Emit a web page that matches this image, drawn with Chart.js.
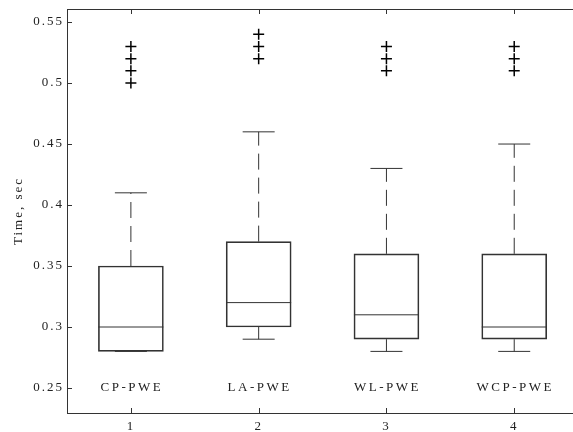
<!DOCTYPE html>
<html>
<head>
<meta charset="utf-8">
<script src="https://cdn.jsdelivr.net/npm/chart.js@4"></script>
<style>
  html, body { margin: 0; padding: 0; background: #fff; }
  canvas { display: block; }
</style>
</head>
<body>
<canvas id="c" width="573" height="432"></canvas>
<script>
// Box-plot statistics of run time per method
const positions = [1, 2, 3, 4];
const tickLabels = ['1', '2', '3', '4'];
const methods = ['CP-PWE', 'LA-PWE', 'WL-PWE', 'WCP-PWE'];
const lowerWhisker = [0.28, 0.29, 0.28, 0.28];
const q1 = [0.28, 0.30, 0.29, 0.29];
const median = [0.30, 0.32, 0.31, 0.30];
const q3 = [0.35, 0.37, 0.36, 0.36];
const upperWhisker = [0.41, 0.46, 0.43, 0.45];
const outliers = [
  [0.50, 0.51, 0.52, 0.53],
  [0.52, 0.53, 0.54],
  [0.51, 0.52, 0.53],
  [0.51, 0.52, 0.53]
];
const yTicks = [0.25, 0.30, 0.35, 0.40, 0.45, 0.50, 0.55];
const labelLevel = 0.25;

const INK = '#333';
const SERIF = '"Liberation Serif", "Times New Roman", serif';

// Dataset tables built from the arrays above
const boxData = positions.map((x, i) => ({ x, y: [q1[i], q3[i]] }));
const medianData = positions.map((x, i) => ({ x, y: median[i] }));
const capData = [];
const whiskerData = [];
positions.forEach((x, i) => {
  capData.push({ x, y: upperWhisker[i] }, { x, y: lowerWhisker[i] });
  whiskerData.push(
    { x, y: q3[i] }, { x, y: upperWhisker[i] }, { x, y: null },
    { x, y: q1[i] }, { x, y: lowerWhisker[i] }, { x, y: null }
  );
});
const outlierData = [];
positions.forEach((x, i) => outliers[i].forEach(v => outlierData.push({ x, y: v })));

// Fixed axis sizes, no extra label overhang padding
function fixScale(size) {
  return s => {
    if (s.isHorizontal()) s.height = size; else s.width = size;
    s.paddingTop = 0; s.paddingBottom = 0; s.paddingLeft = 0; s.paddingRight = 0;
  };
}

// Axis frame: top edge, inward tick marks and the method names inside the plot
const framePlugin = {
  id: 'frame',
  beforeDraw(chart) {
    chart.ctx.letterSpacing = '2px';
  },
  afterDraw(chart) {
    const { ctx, chartArea: a, scales: { x, y } } = chart;
    ctx.save();
    ctx.strokeStyle = INK;
    ctx.lineWidth = 1;
    ctx.beginPath();
    ctx.moveTo(a.left, a.top + 0.5);
    ctx.lineTo(a.right, a.top + 0.5);
    yTicks.forEach(v => {
      const py = Math.round(y.getPixelForValue(v)) + 0.5;
      ctx.moveTo(a.left, py);
      ctx.lineTo(a.left + 5, py);
    });
    positions.forEach(v => {
      const px = Math.round(x.getPixelForValue(v)) + 0.5;
      ctx.moveTo(px, a.bottom);
      ctx.lineTo(px, a.bottom - 5);
      ctx.moveTo(px, a.top);
      ctx.lineTo(px, a.top + 5);
    });
    ctx.stroke();

    ctx.fillStyle = '#222';
    ctx.font = '13px ' + SERIF;
    ctx.letterSpacing = '2.5px';
    ctx.textAlign = 'center';
    ctx.textBaseline = 'middle';
    methods.forEach((m, i) => {
      ctx.fillText(m, x.getPixelForValue(positions[i]) + 1, y.getPixelForValue(labelLevel));
    });
    ctx.restore();
  }
};

new Chart(document.getElementById('c'), {
  type: 'bar',
  data: {
    datasets: [
      {
        type: 'scatter',
        label: 'outliers',
        data: outlierData,
        pointStyle: 'cross',
        radius: 5.5,
        borderColor: '#000',
        borderWidth: 1.5
      },
      {
        type: 'scatter',
        label: 'median',
        data: medianData,
        pointStyle: 'line',
        radius: 32.5,
        borderColor: INK,
        borderWidth: 1
      },
      {
        type: 'scatter',
        label: 'caps',
        data: capData,
        pointStyle: 'line',
        radius: 16,
        borderColor: INK,
        borderWidth: 1
      },
      {
        type: 'scatter',
        label: 'whiskers',
        data: whiskerData,
        showLine: true,
        spanGaps: false,
        pointRadius: 0,
        borderColor: INK,
        borderWidth: 1,
        borderDash: [16, 8]
      },
      {
        type: 'bar',
        label: 'box',
        data: boxData,
        barThickness: 65,
        grouped: false,
        backgroundColor: 'rgba(255,255,255,0)',
        borderColor: INK,
        borderWidth: 1,
        borderSkipped: false
      }
    ]
  },
  options: {
    responsive: false,
    devicePixelRatio: 1,
    animation: false,
    layout: { padding: { top: 9, left: 0, right: 0, bottom: 0 }, autoPadding: false },
    plugins: { legend: { display: false }, tooltip: { enabled: false } },
    scales: {
      x: {
        type: 'linear',
        min: 0.5,
        max: 4.46,
        offset: false,
        grid: { display: false, drawTicks: false },
        border: { display: true, color: INK, width: 1 },
        afterBuildTicks: s => { s.ticks = positions.map(v => ({ value: v })); },
        afterFit: fixScale(19),
        ticks: {
          padding: 6,
          color: '#222',
          font: { family: SERIF, size: 13 },
          maxRotation: 0,
          callback: (v) => tickLabels[positions.indexOf(v)] ?? ''
        }
      },
      y: {
        type: 'linear',
        min: 0.2295,
        max: 0.5607,
        grid: { display: false, drawTicks: false },
        border: { display: true, color: INK, width: 1 },
        afterBuildTicks: s => { s.ticks = yTicks.map(v => ({ value: v })); },
        afterFit: fixScale(67),
        ticks: {
          padding: 3,
          color: '#222',
          font: { family: SERIF, size: 13 },
          callback: v => String(+v.toFixed(2))
        },
        title: {
          display: true,
          text: 'Time, sec',
          color: '#222',
          font: { family: SERIF, size: 13 },
          padding: { top: 11, bottom: 0 }
        }
      }
    }
  },
  plugins: [framePlugin]
});
</script>
</body>
</html>
